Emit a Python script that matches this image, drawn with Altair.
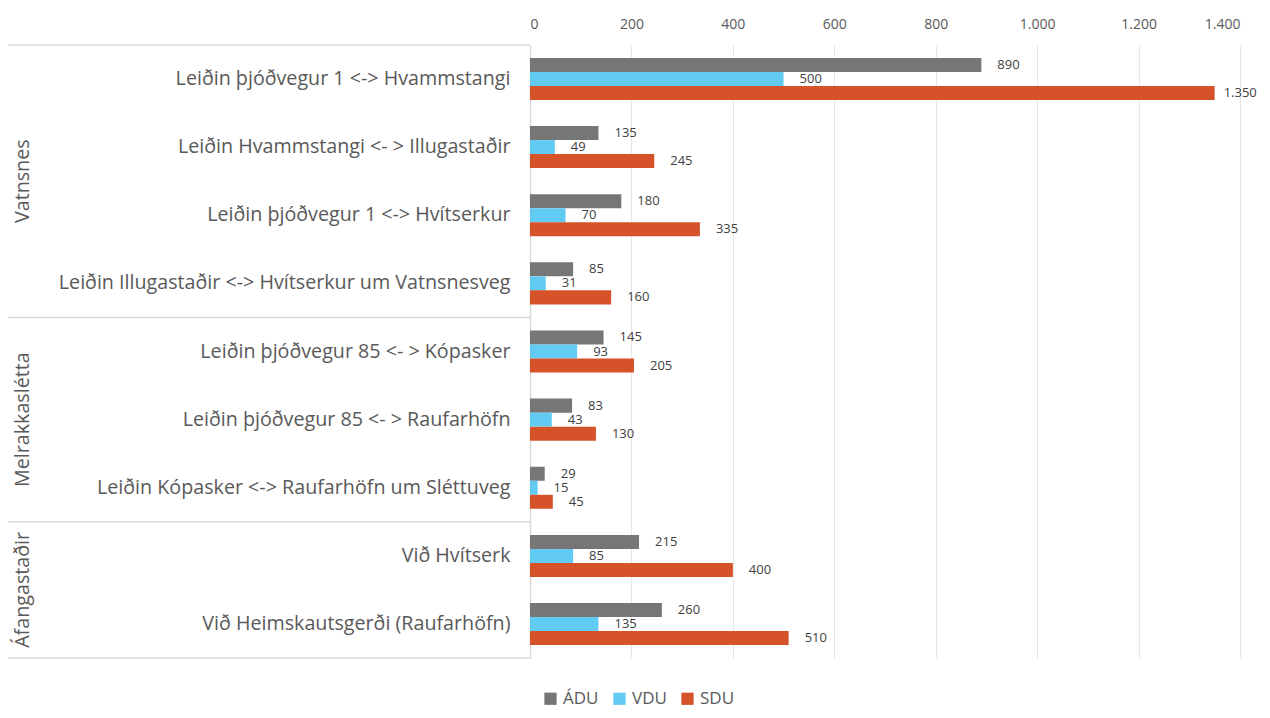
import altair as alt
import pandas as pd

categories = [
    "Leiðin þjóðvegur 1 <-> Hvammstangi",
    "Leiðin Hvammstangi <- > Illugastaðir",
    "Leiðin þjóðvegur 1 <-> Hvítserkur",
    "Leiðin Illugastaðir <-> Hvítserkur um Vatnsnesveg",
    "Leiðin þjóðvegur 85 <- > Kópasker",
    "Leiðin þjóðvegur 85 <- > Raufarhöfn",
    "Leiðin Kópasker <-> Raufarhöfn um Sléttuveg",
    "Við Hvítserk",
    "Við Heimskautsgerði (Raufarhöfn)",
]
groups = ["Vatnsnes", "Melrakkaslétta", "Áfangastaðir"]
group_start = [0, 4, 7]
group_end = [4, 7, 9]

series = ["ÁDU", "VDU", "SDU"]
adu = [890, 135, 180, 85, 145, 83, 29, 215, 260]
vdu = [500, 49, 70, 31, 93, 43, 15, 85, 135]
sdu = [1350, 245, 335, 160, 205, 130, 45, 400, 510]
colors = ["#767676", "#61CBF3", "#D6532A"]
x_ticks = [0, 200, 400, 600, 800, 1000, 1200, 1400]

FONT = "Open Sans"
TXT = "#595959"
CAT_SIZE = 19.7

rows = []
for i, c in enumerate(categories):
    for s, vals in zip(series, [adu, vdu, sdu]):
        rows.append({"category": c, "series": s, "value": vals[i]})
df = pd.DataFrame(rows)

gdf = pd.DataFrame({"group": groups, "start": group_start, "end": group_end})
bdf = pd.DataFrame({"b": group_start + [group_end[-1]]})

fmt = "replace(format(datum.value, ','), ',', '.')"

x_enc = alt.X(
    "value:Q",
    scale=alt.Scale(domain=[0, 1400], nice=False),
    axis=alt.Axis(
        orient="top", values=x_ticks, labelExpr=fmt, grid=True, gridColor="#e6e6e6",
        domain=False, ticks=False, labelFontSize=14, labelColor=TXT, labelFont=FONT,
        labelPadding=14, title=None,
    ),
)
y_enc = alt.Y(
    "category:N",
    sort=categories,
    scale=alt.Scale(paddingInner=0.383, paddingOuter=0.19),
    axis=alt.Axis(
        title=None, labelFontSize=CAT_SIZE, labelColor=TXT, labelFont=FONT, labelPadding=20,
        ticks=False, domainColor="#d9d9d9", domainWidth=1.5, labelLimit=520,
    ),
)
yoff = alt.YOffset("series:N", sort=series, scale=alt.Scale(domain=series, paddingInner=0, paddingOuter=0))

bars = alt.Chart(df).mark_bar().encode(
    x=x_enc,
    y=y_enc,
    yOffset=yoff,
    color=alt.Color(
        "series:N",
        sort=series,
        scale=alt.Scale(domain=series, range=colors),
        legend=alt.Legend(
            title=None, orient="none", legendX=12, legendY=645, direction="horizontal",
            symbolType="square", symbolSize=150, symbolStrokeWidth=0,
            labelFontSize=17, labelColor=TXT, labelFont=FONT, columnPadding=12, labelOffset=4,
        ),
    ),
)

def value_labels(cond, dx):
    return alt.Chart(df).transform_filter(cond).transform_calculate(lbl=fmt).mark_text(
        align="left", baseline="middle", dx=dx, fontSize=13, color="#404040", font=FONT
    ).encode(
        x=alt.X("value:Q"),
        y=alt.Y("category:N", sort=categories),
        yOffset=yoff,
        text="lbl:N",
    )

labels = value_labels("datum.value < 1300", 16)
labels_edge = value_labels("datum.value >= 1300", 9)

qscale = alt.Scale(domain=[0, 9], reverse=True, nice=False, zero=False)

group_text = alt.Chart(gdf).transform_calculate(mid="(datum.start + datum.end) / 2").mark_text(
    angle=270, fontSize=CAT_SIZE, color=TXT, font=FONT, align="center", baseline="middle"
).encode(
    x=alt.value(-507),
    y=alt.Y("mid:Q", scale=qscale, axis=None),
    text="group:N",
)

rules = alt.Chart(bdf).mark_rule(color="#d9d9d9", strokeWidth=1.5).encode(
    x=alt.value(-522),
    x2=alt.value(0),
    y=alt.Y("b:Q", scale=qscale, axis=None),
)

chart = alt.layer(
    alt.layer(bars, labels, labels_edge), group_text, rules
).resolve_scale(y="independent").properties(
    width=710,
    height=613,
    autosize=alt.AutoSizeParams(type="none"),
    padding={"left": 522, "top": 37, "right": 22, "bottom": 52},
).configure_view(stroke=None)

chart.save("out.html", embed_options={"renderer": "svg", "actions": False})
